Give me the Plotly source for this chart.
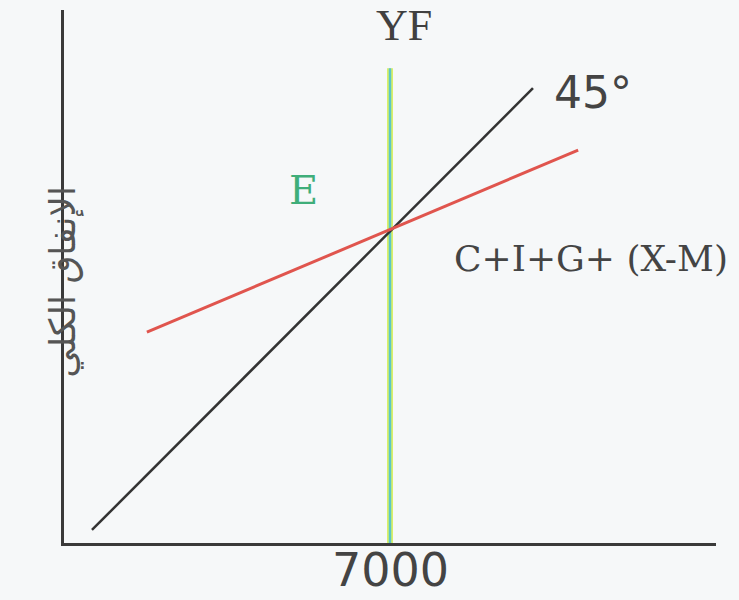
import plotly.graph_objects as go

# Data (chart units; 7000 = full-employment income YF)
line45_x = [600, 10070]
line45_y = [280, 9770]
ae_x = [1780, 11040]          # C+I+G+(X-M) aggregate expenditure line
ae_y = [4530, 8440]
yf_x = [7000, 7000]           # full-employment income line
yf_y = [0, 10200]
x_tick_vals = [7000]
x_tick_text = ["7000"]

X_RANGE = [0, 14000]
Y_RANGE = [0, 11450]

bg = "#f6f8f9"
ink = "#3a3a3a"

fig = go.Figure()

# YF vertical line (yellow halo + cyan core)
fig.add_trace(go.Scatter(x=yf_x, y=yf_y, mode="lines",
                         line=dict(color="#d9ef6a", width=6), hoverinfo="skip"))
fig.add_trace(go.Scatter(x=yf_x, y=yf_y, mode="lines",
                         line=dict(color="#5cc6c8", width=2.5), hoverinfo="skip"))
# 45 degree line
fig.add_trace(go.Scatter(x=line45_x, y=line45_y, mode="lines",
                         line=dict(color="#333333", width=2.5), hoverinfo="skip"))
# Aggregate expenditure line
fig.add_trace(go.Scatter(x=ae_x, y=ae_y, mode="lines",
                         line=dict(color="#e0554e", width=3), hoverinfo="skip"))

annotations = [
    dict(x=7300, y=11120, xref="x", yref="y", text="YF", showarrow=False,
         font=dict(family="Liberation Serif", size=44, color="#404040")),
    dict(x=11360, y=9683, xref="x", yref="y", text="45°", showarrow=False,
         font=dict(family="DejaVu Sans", size=44, color="#444444")),
    dict(x=11316, y=6119, xref="x", yref="y", text="C+I+G+ (X-M)", showarrow=False,
         font=dict(family="DejaVu Serif", size=36, color="#444444")),
    dict(x=5132, y=7579, xref="x", yref="y", text="E", showarrow=False,
         font=dict(family="DejaVu Serif", size=40, color="#3fae7a")),
    dict(x=-0.0368, y=0.49, xref="paper", yref="paper", text="الإنفاق الكلي",
         textangle=-90, showarrow=False,
         font=dict(family="DejaVu Sans", size=36, color="#555555")),
]
# x-axis tick label(s), placed just under the axis line
for v, t in zip(x_tick_vals, x_tick_text):
    annotations.append(dict(x=v, y=-0.0507, xref="x", yref="paper", text=t,
                            showarrow=False, yanchor="middle",
                            font=dict(family="DejaVu Sans", size=46, color="#444444")))

fig.update_layout(
    width=739, height=600,
    margin=dict(l=64, r=23, t=10, b=57, autoexpand=False),
    paper_bgcolor=bg, plot_bgcolor=bg,
    showlegend=False,
    annotations=annotations,
    xaxis=dict(range=X_RANGE, showgrid=False, zeroline=False, automargin=False,
               showline=True, linecolor=ink, linewidth=3,
               tickmode="array", tickvals=x_tick_vals,
               showticklabels=False, ticks="", fixedrange=True),
    yaxis=dict(range=Y_RANGE, showgrid=False, zeroline=False, automargin=False,
               showline=True, linecolor=ink, linewidth=3,
               showticklabels=False, ticks="", fixedrange=True),
)

fig.write_html("out.html", config={"displayModeBar": False},
               post_script="document.body.style.margin='0';")
